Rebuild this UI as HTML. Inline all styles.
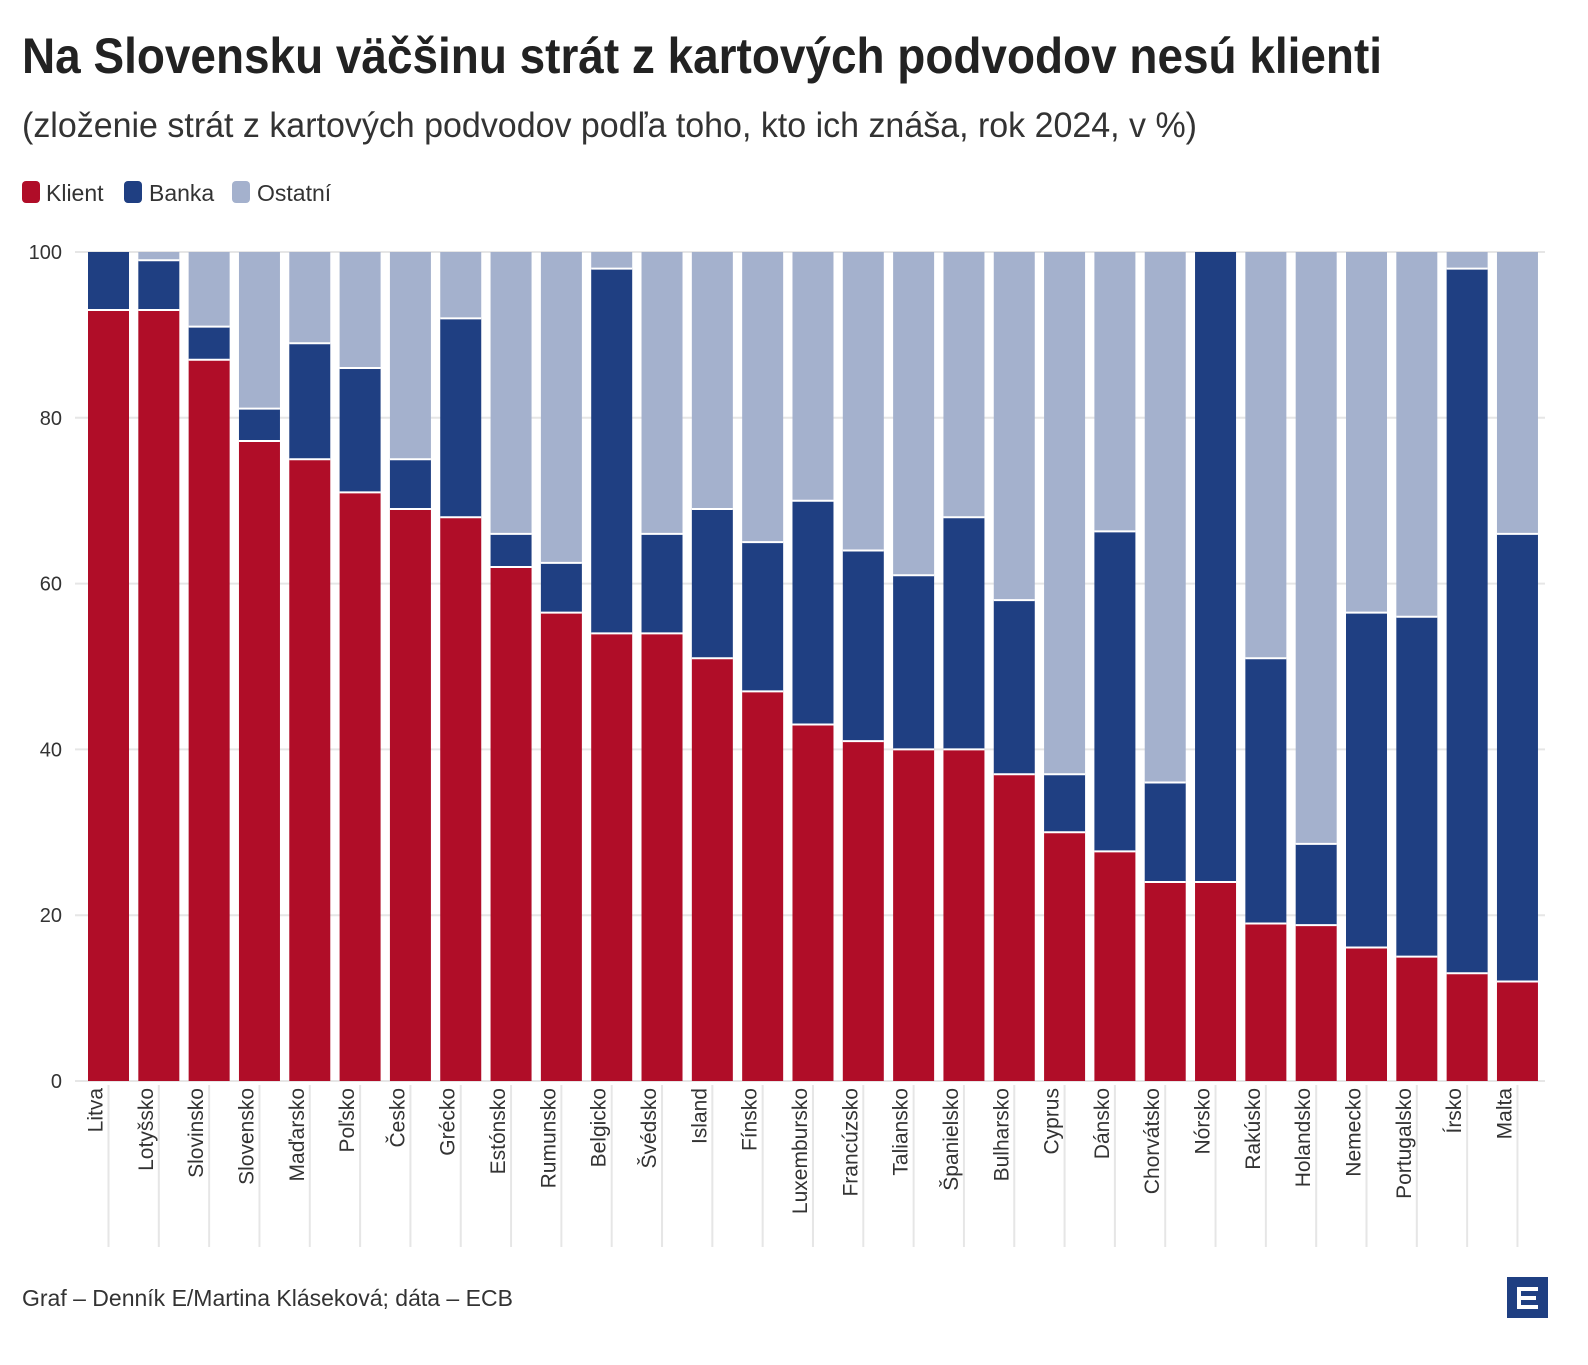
<!DOCTYPE html>
<html><head><meta charset="utf-8"><style>
body{margin:0;background:#fff}
svg text{font-family:"Liberation Sans Narrow","Liberation Sans",sans-serif}
</style></head><body>
<svg width="1588" height="1360" xmlns="http://www.w3.org/2000/svg">
<text x="22" y="73" font-size="50" font-weight="bold" fill="#222" textLength="1360" lengthAdjust="spacingAndGlyphs">Na Slovensku väčšinu strát z kartových podvodov nesú klienti</text>
<text x="22" y="137" font-size="35" fill="#333" textLength="1175" lengthAdjust="spacingAndGlyphs">(zloženie strát z kartových podvodov podľa toho, kto ich znáša, rok 2024, v %)</text>
<rect x="22" y="181" width="18" height="22" rx="4" fill="#b00d28"/><text x="46" y="201" font-size="23" fill="#333">Klient</text>
<rect x="124" y="181" width="18" height="22" rx="4" fill="#1f3f82"/><text x="149" y="201" font-size="23" fill="#333">Banka</text>
<rect x="232" y="181" width="18" height="22" rx="4" fill="#a4b1cd"/><text x="257" y="201" font-size="23" fill="#333">Ostatní</text>
<g id="grid" stroke="#e6e6e6" stroke-width="2"></g>
<g id="yl" font-size="20" fill="#333" text-anchor="end"></g>
<g id="bars"></g>
<g id="xl" font-size="21" fill="#333" text-anchor="end"></g>
<text x="22" y="1306" font-size="23" fill="#333">Graf – Denník E/Martina Kláseková; dáta – ECB</text>
<rect x="1507" y="1277" width="41" height="41" fill="#1f3f82"/>
<path d="M1517 1287h21v4h-17v5h15v4h-15v5h17v4h-21z" fill="#fff"/>
</svg>
<script>
const d=[["Litva",93,7],["Lotyšsko",93,6],["Slovinsko",87,4],["Slovensko",77.2,3.9],["Maďarsko",75,14],["Poľsko",71,15],["Česko",69,6],["Grécko",68,24],["Estónsko",62,4],["Rumunsko",56.5,6],["Belgicko",54,44],["Švédsko",54,12],["Island",51,18],["Fínsko",47,18],["Luxembursko",43,27],["Francúzsko",41,23],["Taliansko",40,21],["Španielsko",40,28],["Bulharsko",37,21],["Cyprus",30,7],["Dánsko",27.7,38.6],["Chorvátsko",24,12],["Nórsko",24,76],["Rakúsko",19,32],["Holandsko",18.8,9.8],["Nemecko",16.1,40.4],["Portugalsko",15,41],["Írsko",13,85],["Malta",12,54]];
const NS="http://www.w3.org/2000/svg";
function el(p,t,a,txt){const e=document.createElementNS(NS,t);for(const k in a)e.setAttribute(k,a[k]);if(txt!=null)e.textContent=txt;document.getElementById(p).appendChild(e);}
const y0=1081,s=8.29;
for(let v=0;v<=100;v+=20){const y=y0-v*s;el("grid","line",{x1:75,x2:1545,y1:y,y2:y});el("yl","text",{x:62,y:y+7},v);}
d.forEach((r,i)=>{const x=88+i*50.32,c=x+20.5;
el("grid","line",{x1:c,x2:c,y1:1085,y2:1247});
const k=r[1],b=r[2],o=100-k-b;
el("bars","rect",{x:x,y:y0-100*s,width:41,height:o*s,fill:"#a4b1cd"});
el("bars","rect",{x:x,y:y0-(k+b)*s,width:41,height:b*s,fill:"#1f3f82"});
el("bars","rect",{x:x,y:y0-k*s,width:41,height:k*s,fill:"#b00d28"});
if(o>0.01)el("bars","line",{x1:x,x2:x+41,y1:y0-(k+b)*s,y2:y0-(k+b)*s,stroke:"#fff","stroke-width":2});
el("bars","line",{x1:x,x2:x+41,y1:y0-k*s,y2:y0-k*s,stroke:"#fff","stroke-width":2});
el("xl","text",{transform:`translate(${c-6},1088) rotate(-90)`,x:0,y:0},r[0]);
});
</script>
</body></html>
